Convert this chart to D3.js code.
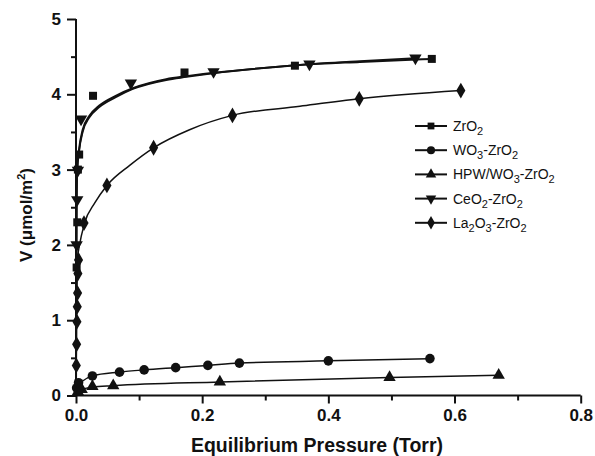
<!DOCTYPE html>
<html><head><meta charset="utf-8">
<script src="https://cdn.jsdelivr.net/npm/d3@7"></script>
<style>body{margin:0;background:#fff}svg{display:block}text{font-family:"Liberation Sans",Arial,sans-serif;fill:#111}</style>
</head><body><svg id="c" width="595" height="456"></svg>
<script>
// ---- data ----
const seriesNames = ["ZrO2","WO3-ZrO2","HPW/WO3-ZrO2","CeO2-ZrO2","La2O3-ZrO2"];
const markerTypes = ["square","circle","triangle","triangleDown","diamond"];
const zrO2 = [[0.001,1.7],[0.002,2.3],[0.003,3.0],[0.005,3.2],[0.027,3.98],[0.172,4.29],[0.347,4.38],[0.564,4.47]];
const wO3 = [[0.001,0.10],[0.004,0.17],[0.026,0.26],[0.069,0.31],[0.108,0.34],[0.158,0.37],[0.209,0.40],[0.259,0.43],[0.400,0.46],[0.561,0.49]];
const hpw = [[0.003,0.05],[0.009,0.08],[0.026,0.12],[0.059,0.13],[0.228,0.18],[0.497,0.24],[0.670,0.27]];
const ceO2 = [[0.001,2.0],[0.002,2.6],[0.003,2.99],[0.008,3.67],[0.087,4.15],[0.218,4.30],[0.370,4.40],[0.538,4.48]];
const la2O3 = [[0.0005,0.40],[0.001,0.68],[0.0015,0.98],[0.002,1.18],[0.0025,1.36],[0.003,1.62],[0.004,1.80],[0.0127,2.29],[0.049,2.79],[0.123,3.29],[0.248,3.72],[0.449,3.94],[0.610,4.05]];
// fitted curves
const zrFit = [[0,0],[0.0005,1.6],[0.001,2.6],[0.002,3.02],[0.005,3.28],[0.0106,3.53],[0.021,3.71],[0.037,3.85],[0.063,3.98],[0.09,4.08],[0.143,4.20],[0.175,4.24],[0.249,4.31],[0.355,4.39],[0.45,4.43],[0.564,4.47]];
const ceFit = [[0,0],[0.0005,1.5],[0.001,2.5],[0.002,2.98],[0.005,3.25],[0.0106,3.50],[0.021,3.69],[0.037,3.83],[0.063,3.96],[0.09,4.07],[0.143,4.19],[0.175,4.23],[0.249,4.31],[0.355,4.39],[0.45,4.44],[0.538,4.48]];
const wFit = [[0,0.05],[0.003,0.13],[0.01,0.19],[0.026,0.26],[0.069,0.31],[0.108,0.34],[0.158,0.37],[0.209,0.40],[0.259,0.43],[0.400,0.46],[0.561,0.49]];
const hFit = [[0,0.03],[0.009,0.08],[0.026,0.11],[0.059,0.13],[0.228,0.18],[0.497,0.24],[0.670,0.27]];
const laFit = [[0,0],[0.0005,0.6],[0.001,1.2],[0.002,1.6],[0.0027,1.84],[0.0052,1.98],[0.0132,2.28],[0.03,2.56],[0.049,2.79],[0.0856,3.06],[0.123,3.29],[0.18,3.53],[0.248,3.72],[0.355,3.84],[0.449,3.94],[0.610,4.05]];
const xTicks = [0,0.2,0.4,0.6,0.8];
const yTicks = [0,1,2,3,4,5];
const xTitle = "Equilibrium Pressure (Torr)";

const svg = d3.select("#c");
const x = d3.scaleLinear().domain([0,0.8]).range([76,580.7]);
const y = d3.scaleLinear().domain([0,5]).range([395.5,19]);
const g = svg.append("g");

// axes
const xAxis = d3.axisBottom(x).tickValues(xTicks).tickFormat(d3.format(".1f")).tickSize(8).tickPadding(5);
const xMinor = d3.axisBottom(x).tickValues(d3.range(0.1,0.8,0.2)).tickFormat("").tickSize(5);
const yAxis = d3.axisLeft(y).tickValues(yTicks).tickFormat(d3.format("d")).tickSize(9).tickPadding(6);
const yMinor = d3.axisLeft(y).tickValues(d3.range(0.5,5,1)).tickFormat("").tickSize(5);
function style(sel){
  sel.select(".domain").attr("stroke","#111").attr("stroke-width",2);
  sel.selectAll(".tick line").attr("stroke","#111").attr("stroke-width",2);
  sel.selectAll(".tick text").attr("font-size",17).attr("font-weight","bold").attr("fill","#111").attr("font-family","Liberation Sans, Arial, sans-serif");
}
g.append("g").attr("transform","translate(0,395.5)").call(xMinor).call(style).select(".domain").remove();
g.append("g").attr("transform","translate(76,0)").call(yMinor).call(style).select(".domain").remove();
const gx = g.append("g").attr("transform","translate(0,395.5)").call(xAxis).call(style);
const gy = g.append("g").attr("transform","translate(76,0)").call(yAxis).call(style);
gx.select(".domain").attr("d", `M${x(0)},0H${x(0.8)}`);
gy.select(".domain").attr("d", `M0,${y(5)}V${y(0)}`);

// titles
g.append("text").attr("x",317).attr("y",452).attr("text-anchor","middle")
  .attr("font-size",19.5).attr("font-weight","bold").text(xTitle);
const yt = g.append("text").attr("transform","translate(32,215) rotate(-90)").attr("text-anchor","middle")
  .attr("font-size",17).attr("font-weight","bold");
yt.append("tspan").text("V (μmol/m");
yt.append("tspan").attr("font-size",11).attr("dy",-7).text("2");
yt.append("tspan").attr("dy",7).text(")");

// curves
const line = d3.line().x(d=>x(d[0])).y(d=>y(d[1])).curve(d3.curveMonotoneX);
const fits = [[zrFit,2],[ceFit,1.8],[wFit,1.5],[hFit,1.5],[laFit,1.5]];
fits.forEach(([f,w])=>g.append("path").attr("d",line(f)).attr("fill","none").attr("stroke","#111").attr("stroke-width",w));

// markers
const sym = {
  square: d3.symbol(d3.symbolSquare,64),
  circle: d3.symbol(d3.symbolCircle,72),
  triangle: d3.symbol(d3.symbolTriangle,66),
  triangleDown: d3.symbol(d3.symbolTriangle,66),
  diamond: d3.symbol(d3.symbolDiamond,72)
};
function markerPath(type, sx, sy, sc){
  const rot = type==="triangleDown" ? " rotate(180)" : "";
  return `translate(${sx},${sy})${rot} scale(${sc||1})`;
}
const allData = [zrO2,wO3,hpw,ceO2,la2O3];
allData.forEach((ds,i)=>{
  g.selectAll(null).data(ds).enter().append("path")
    .attr("d",sym[markerTypes[i]]())
    .attr("transform",d=>markerPath(markerTypes[i],x(d[0]),y(d[1])))
    .attr("fill","#111");
});

// legend
const lg = g.append("g");
seriesNames.forEach((n,i)=>{
  const ly = 126 + i*24.2;
  lg.append("line").attr("x1",415).attr("x2",447).attr("y1",ly).attr("y2",ly).attr("stroke","#111").attr("stroke-width",2);
  lg.append("path").attr("d",sym[markerTypes[i]]()).attr("transform",markerPath(markerTypes[i],431,ly,0.85)).attr("fill","#111");
  const t = lg.append("text").attr("x",453).attr("y",ly+5).attr("font-size",14);
  const parts = n.match(/(\d+|[^\d]+)/g);
  let sub=false;
  parts.forEach(p=>{
    const isD = /^\d+$/.test(p);
    const ts = t.append("tspan").text(p);
    if(isD){ ts.attr("font-size",11).attr("dy",sub?0:4); sub=true; }
    else { if(sub){ ts.attr("dy",-4); sub=false; } }
  });
});
</script></body></html>
